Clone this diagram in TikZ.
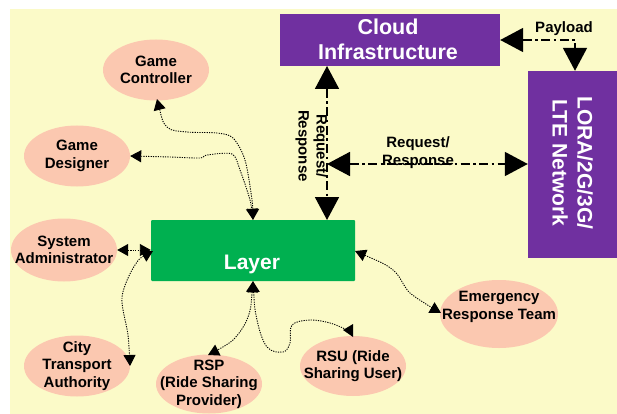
\documentclass[tikz,border=0pt]{standalone}
\usepackage{fontspec}
\setmainfont{Liberation Sans}
\usetikzlibrary{arrows.meta,shapes.geometric}
\definecolor{bgy}{HTML}{FBFAC8}
\definecolor{purp}{HTML}{7030A0}
\definecolor{grn}{HTML}{00B050}
\definecolor{pch}{HTML}{FBC8B0}
\tikzset{
  actor/.style={ellipse,fill=pch,inner sep=0pt},
  atxt/.style={inner sep=0pt,align=center,font=\bfseries\fontsize{15}{17.5}\selectfont,text=black},
  lbl/.style={align=center,inner sep=0pt,font=\bfseries\fontsize{15}{18}\selectfont,text=black},
  bigline/.style={line width=1.8pt,dash pattern=on 9pt off 3.5pt on 2.5pt off 3.5pt,{Triangle[length=23pt,width=24pt]}-{Triangle[length=23pt,width=24pt]}},
  dotline/.style={line width=0.9pt,dash pattern=on 1.2pt off 1.2pt,black},
  tipc/.style={{Triangle[length=11pt,width=12pt,fill=black]}-{Triangle[length=11pt,width=12pt,fill=black]}},
  tips/.style={{Triangle[length=11pt,width=12pt,fill=black]}-}
}
\begin{document}
\begin{tikzpicture}[x=1pt,y=-1pt]
\useasboundingbox (0,0) rectangle (617,414);
\fill[white] (0,0) rectangle (617,414);
\fill[bgy] (10,9) rectangle (617,414);
\node[actor,minimum width=106pt,minimum height=61pt,label={[atxt]center:{Game\\Controller}}] (gc) at (156,70) {};
\node[actor,minimum width=106pt,minimum height=61pt,label={[atxt]center:{Game\\Designer}}] (gd) at (77,156) {};
\node[actor,minimum width=106pt,minimum height=63pt,label={[atxt]center:{System\\Administrator}}] (sa) at (64,250) {};
\node[actor,minimum width=106pt,minimum height=61pt,label={[atxt]center:{City\\Transport\\Authority}}] (ct) at (77,366) {};
\node[actor,minimum width=106pt,minimum height=59pt,label={[atxt]center:{RSP\\(Ride Sharing\\Provider)}}] (rsp) at (209,384) {};
\node[actor,minimum width=106pt,minimum height=60pt,label={[atxt]center:{RSU (Ride\\Sharing User)}}] (rsu) at (353,366) {};
\node[actor,minimum width=118pt,minimum height=68pt,label={[atxt]center:{Emergency\\Response Team\\\mbox{}}}] (ert) at (499,314) {};
\node[fill=grn,rounded corners=1pt,minimum width=204pt,minimum height=61pt,inner sep=0pt] (layer) at (253,250.5) {};
\node[text=white,inner sep=0pt,font=\bfseries\fontsize{21}{25}\selectfont] (layertxt) at (252,264) {Layer};
\node[fill=purp,minimum width=220pt,minimum height=52pt,inner sep=0pt] (cloud) at (390,40) {};
\node[text=white,inner sep=0pt,align=center,font=\bfseries\fontsize{21.5}{25}\selectfont] (cloudtxt) at (388,39.5) {Cloud\\Infrastructure};
\node[fill=purp,minimum width=89pt,minimum height=187pt,inner sep=0pt] (net) at (572.5,164.5) {};
\node[text=white,rotate=-90,inner sep=0pt,align=center,font=\bfseries\fontsize{21}{25}\selectfont] (nettxt) at (572.5,163) {LORA/2G/3G/\\LTE Network};
% big connectors
\coordinate (vt) at (327,66);
\coordinate (vb) at (327,220);
\coordinate (vj) at (327,164);
\coordinate (pc) at (575,40);
\draw[bigline] (vt) -- (vb);
\draw[bigline] (vj) -- (net.west |- vj);
\draw[bigline] (cloud.east |- pc) -- (pc) -- (pc |- net.north);
\node[lbl] (pl) at (564,29) {Payload};
\node[lbl,rotate=-90] (vl) at (311.5,146) {Request/\\Response};
\node[lbl] (hl) at (418,153) {Request/\\Response};
% dotted connectors
\draw[dotline,tipc] plot[smooth] coordinates {(157,99) (167,127) (187,132) (217,133) (233,138) (245,160) (252,200) (layer.north)};
\draw[dotline,tipc] plot[smooth,tension=.5] coordinates {(gd.east) (170,157) (200,158) (207,155) (232,154) (240,170) (250,200) (layer.north)};
\draw[dotline,tipc] (sa.east) -- (layer.west |- sa.east);
\draw[dotline,tipc] plot[smooth] coordinates {(153,251) (135,265) (122,297) (128,335) (130,366)};
\draw[dotline,tipc] plot[smooth] coordinates {(layer.south) (248,317) (233,340) (208,355)};
\draw[dotline,tips] plot[smooth,tension=.6] coordinates {(layer.south) (257,320) (267,347) (283,352) (290,343) (292,325) (310,320) (330,323) (345,329)};
\fill[black] (343,330) -- (353,324) -- (353,337) -- cycle;
\draw[dotline,tipc] plot[smooth] coordinates {(355,251) (393,270) (410,293) (441,313)};
\end{tikzpicture}
\end{document}
